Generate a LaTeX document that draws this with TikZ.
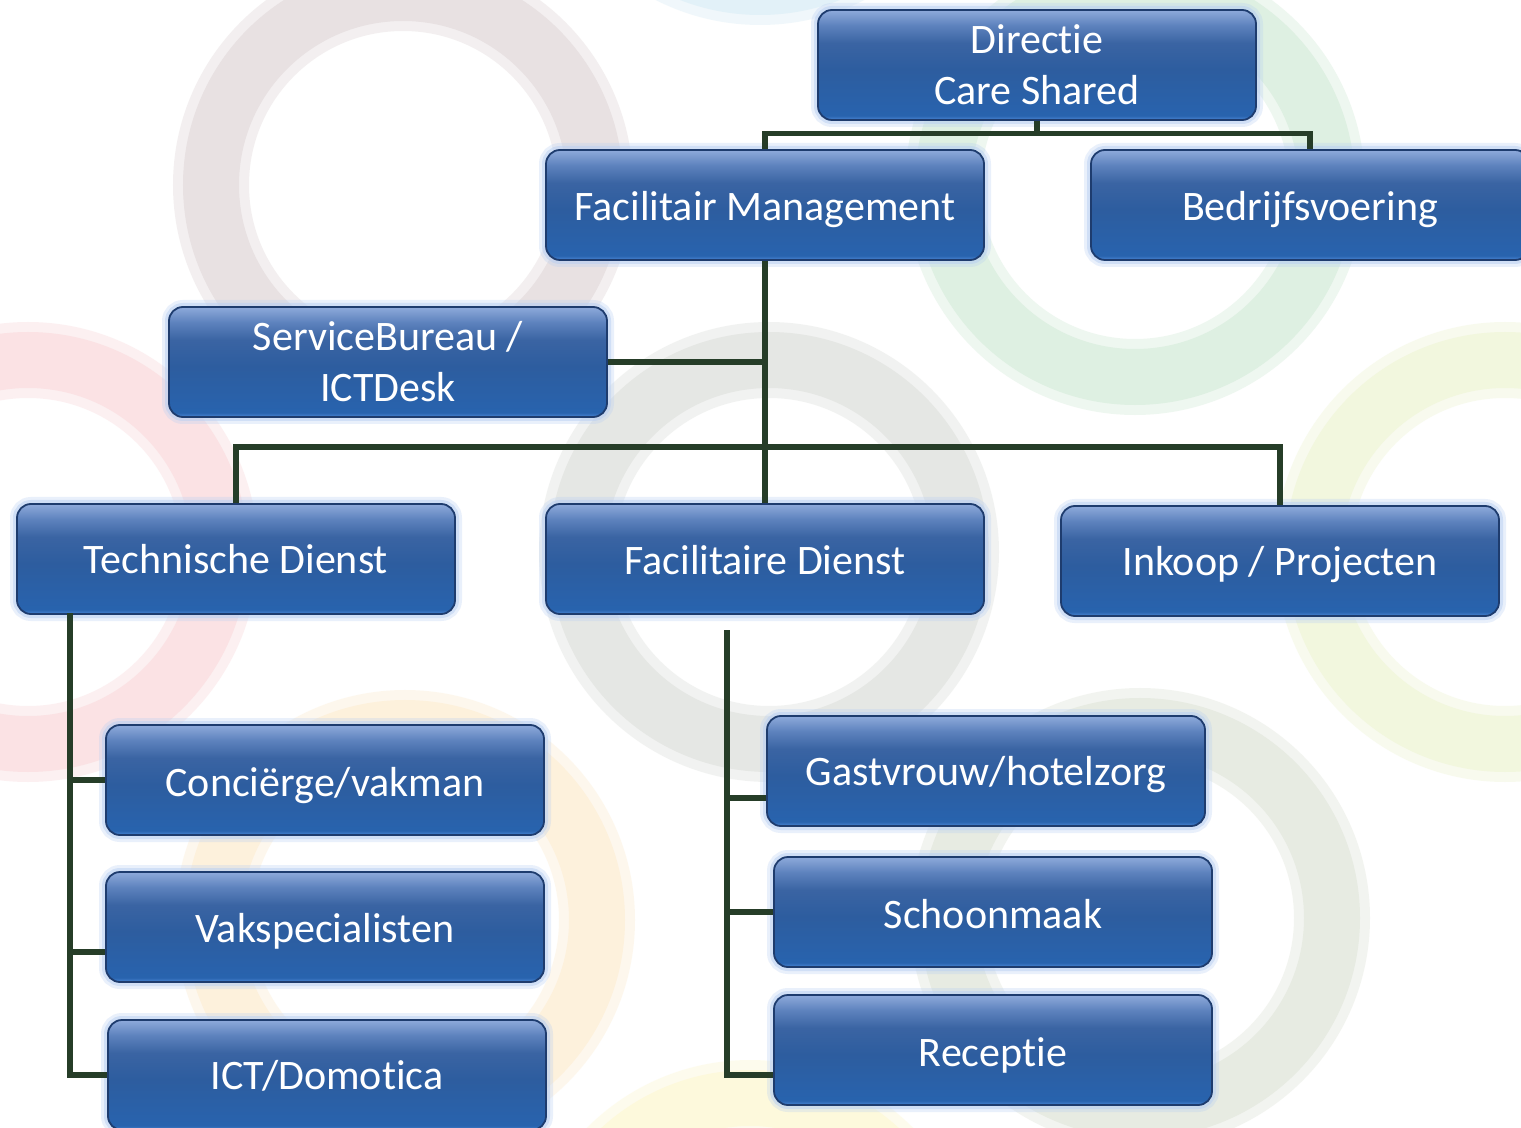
\documentclass[tikz,border=0pt]{standalone}
\usepackage{fontspec}
\setmainfont{Carlito}[Ligatures={NoCommon,NoContextual},RawFeature={-liga;-clig;-dlig;-calt}]
\usetikzlibrary{calc}

\definecolor{bEdge}{HTML}{4A86D4}
\definecolor{bLow}{HTML}{2863AE}
\definecolor{bMid}{HTML}{2D5D9F}
\definecolor{bMidB}{HTML}{3A64A3}
\definecolor{bHi}{HTML}{5D82BD}
\definecolor{bTop}{HTML}{8EAADB}
\definecolor{bBorder}{HTML}{1E3C6E}
\definecolor{glow}{HTML}{B8CFF2}
\definecolor{connc}{HTML}{263D28}

\definecolor{rMauve}{HTML}{E8E1E2}
\definecolor{rBlue}{HTML}{E2F1F8}
\definecolor{rGreen}{HTML}{DEF0E2}
\definecolor{rPink}{HTML}{FBE2E4}
\definecolor{rGray}{HTML}{E5E7E4}
\definecolor{rYelGreen}{HTML}{F2F7DE}
\definecolor{rOrange}{HTML}{FDF1DC}
\definecolor{rGrayGreen}{HTML}{E7EBE2}
\definecolor{rYellow}{HTML}{FDF9DC}

\newcommand{\txtdown}[2]{\raisebox{-#1}[\height][\depth]{#2}}

\pgfdeclareverticalshading{orgbox}{100bp}{color(0bp)=(bEdge); color(25bp)=(bEdge); color(27bp)=(bLow); color(48bp)=(bMid); color(60bp)=(bMidB); color(68bp)=(bHi); color(75bp)=(bTop); color(100bp)=(bTop)}

\tikzset{
  orgnode/.style={rounded corners=7pt, minimum width=219pt, minimum height=55pt,
    inner sep=0pt, text=white, font=\fontsize{21}{25.5}\selectfont, align=center,
    shade, shading=orgbox, draw=bBorder, line width=0.9pt,
    preaction={draw=glow, line width=7pt, opacity=0.3},
    preaction={draw=glow, line width=4pt, opacity=0.5}},
  conn/.style={draw=connc, line width=2.6pt},
  ringsoft/.style={line width=38pt, opacity=0.5},
  ringcore/.style={line width=28pt}
}

\begin{document}
\begin{tikzpicture}[x=0.5pt,y=-0.5pt]
\useasboundingbox (0,0) rectangle (1521,1128);
\clip (0,0) rectangle (1521,1128);
\fill[white] (0,0) rectangle (1521,1128);

% background rings
\foreach \cx/\cy/\col in {403/185/rMauve, 760/-205/rBlue, 1135/185/rGreen,
  28/552/rPink, 769/552/rGray, 1505/552/rYelGreen, 405/920/rOrange,
  1140/918/rGrayGreen, 750/1290/rYellow}{
  \draw[\col, ringsoft] (\cx,\cy) circle (96pt);
  \draw[\col, ringcore] (\cx,\cy) circle (96pt);
}

% nodes
\node[orgnode] (dir) at (1037,65) {Directie\\Care Shared};
\node[orgnode] (fm) at (765,205) {\txtdown{2.5pt}{Facilitair Management}};
\node[orgnode] (bv) at (1310,205) {\txtdown{2.5pt}{Bedrijfsvoering}};
\node[orgnode] (sb) at (388,362) {ServiceBureau /\\ICTDesk};
\node[orgnode] (td) at (236,559) {Technische Dienst};
\node[orgnode] (fd) at (765,559) {\txtdown{0.5pt}{Facilitaire Dienst}};
\node[orgnode] (ink) at (1280,561) {\txtdown{2pt}{Inkoop / Projecten}};
\node[orgnode] (con) at (325,780) {\txtdown{3pt}{Conciërge/vakman}};
\node[orgnode] (vak) at (325,927) {\txtdown{2pt}{Vakspecialisten}};
\node[orgnode] (ict) at (327,1075) {\txtdown{0.5pt}{ICT/Domotica}};
\node[orgnode] (gast) at (986,771) {\txtdown{2pt}{Gastvrouw/hotelzorg}};
\node[orgnode] (sch) at (993,912) {\txtdown{1pt}{Schoonmaak}};
\node[orgnode] (rec) at (993,1050) {\txtdown{2.5pt}{Receptie}};

% connectors
\draw[conn] (dir.south) -- ++(0,13) coordinate (j1);
\draw[conn] (fm.north) |- (j1) -| (bv.north);
\draw[conn] (fm.south) -- (fd.north);
\draw[conn] (sb.east) -| (fm.south);
\coordinate (j2) at (765,447);
\draw[conn] (td.north) |- (j2) -| (ink.north);

\coordinate (ts) at (70,613);
\coordinate (vb) at ([yshift=-12.5pt]vak.west);
\draw[conn] (ts) |- (ict.west);
\draw[conn] (ts |- con.west) -- (con.west);
\draw[conn] (ts |- vb) -- (vb);

\coordinate (fs) at (727,630);
\coordinate (gb) at ([yshift=-13.5pt]gast.west);
\coordinate (rb) at ([yshift=-12.5pt]rec.west);
\draw[conn] (fs) |- (rb);
\draw[conn] (fs |- gb) -- (gb);
\draw[conn] (fs |- sch.west) -- (sch.west);
\end{tikzpicture}
\end{document}
